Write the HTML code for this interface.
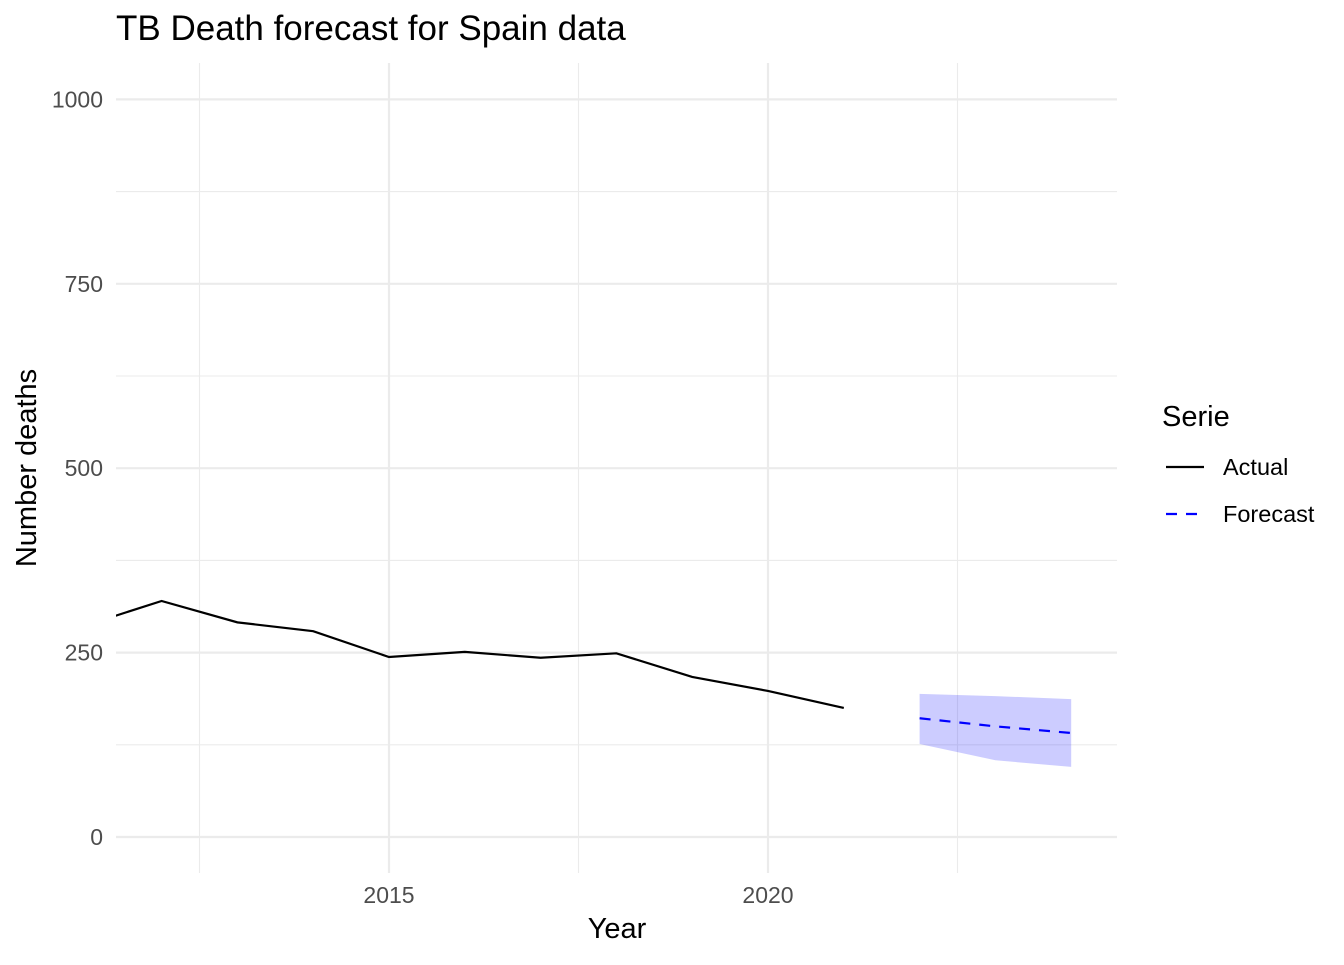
<!DOCTYPE html>
<html><head><meta charset="utf-8"><style>
body{margin:0;background:#fff;}
svg{font-family:"Liberation Sans",sans-serif;}
</style></head><body>
<svg id="chart" width="1344" height="960">
<defs><clipPath id="pc"><rect x="116" y="63" width="1001" height="810"/></clipPath></defs>
<text x="116" y="40" font-size="35" fill="#000">TB Death forecast for Spain data</text>
<g id="grid"></g>
<g id="ticks"></g>
<g id="marks" clip-path="url(#pc)"></g>
<text x="617" y="938" font-size="29" text-anchor="middle">Year</text>
<text transform="translate(36,468) rotate(-90)" font-size="29" text-anchor="middle">Number deaths</text>
<g>
<text x="1162" y="426" font-size="29">Serie</text>
<g><line x1="1166" y1="467" x2="1204" y2="467" stroke="#000" stroke-width="2.2"/><text x="1223" y="475" font-size="23.5">Actual</text></g>
<g><line x1="1166" y1="514" x2="1204" y2="514" stroke="#00f" stroke-width="2.2" stroke-dasharray="11,9"/><text x="1223" y="522" font-size="23.5">Forecast</text></g>
</g>
</svg>
<script>
const actualYears=[2011,2012,2013,2014,2015,2016,2017,2018,2019,2020,2021];
const actualValues=[287,320,291,279,244,251,243,249,217,198,175];
const fcYears=[2022,2023,2024];
const fcMean=[161,150,141];
const fcUpper=[194,191,187];
const fcLower=[126,104,95];
const yTicks=[0,250,500,750,1000];
const yMinor=[125,375,625,875];
const xTicks=[2015,2020];
const xMinor=[2012.5,2017.5,2022.5];
const X=v=>389+(v-2015)*75.8;
const Y=v=>837-v*0.7376;
const NS="http://www.w3.org/2000/svg";
function mk(p,t,a){const e=document.createElementNS(NS,t);for(const k in a)e.setAttribute(k,a[k]);p.appendChild(e);return e;}
const grid=document.getElementById('grid'),ticks=document.getElementById('ticks'),marks=document.getElementById('marks');
yMinor.forEach(v=>{const e=mk(grid,'line',{x1:116,x2:1117,y1:Y(v),y2:Y(v),stroke:'#ebebeb','stroke-width':1.1});

});
xMinor.forEach(v=>{const e=mk(grid,'line',{x1:X(v),x2:X(v),y1:63,y2:873,stroke:'#ebebeb','stroke-width':1.1});

});
yTicks.forEach(v=>{const e=mk(grid,'line',{x1:116,x2:1117,y1:Y(v),y2:Y(v),stroke:'#ebebeb','stroke-width':2.2});


const t=mk(ticks,'text',{x:103,y:Y(v)+8,'font-size':23,fill:'#4d4d4d','text-anchor':'end'});t.textContent=v;

});
xTicks.forEach(v=>{const e=mk(grid,'line',{x1:X(v),x2:X(v),y1:63,y2:873,stroke:'#ebebeb','stroke-width':2.2});


const t=mk(ticks,'text',{x:X(v),y:903,'font-size':23,fill:'#4d4d4d','text-anchor':'middle'});t.textContent=v;

});
let bp=fcYears.map((y,i)=>X(y)+','+Y(fcUpper[i])).concat(fcYears.map((y,i)=>X(y)+','+Y(fcLower[i])).reverse()).join(' ');
const band=mk(marks,'polygon',{points:bp,fill:'#0000ff','fill-opacity':0.2});


const al=mk(marks,'polyline',{points:actualYears.map((y,i)=>X(y)+','+Y(actualValues[i])).join(' '),fill:'none',stroke:'#000','stroke-width':2.2});


const fl=mk(marks,'polyline',{points:fcYears.map((y,i)=>X(y)+','+Y(fcMean[i])).join(' '),fill:'none',stroke:'#00f','stroke-width':2.2,'stroke-dasharray':'11,9'});


</script>
</body></html>
